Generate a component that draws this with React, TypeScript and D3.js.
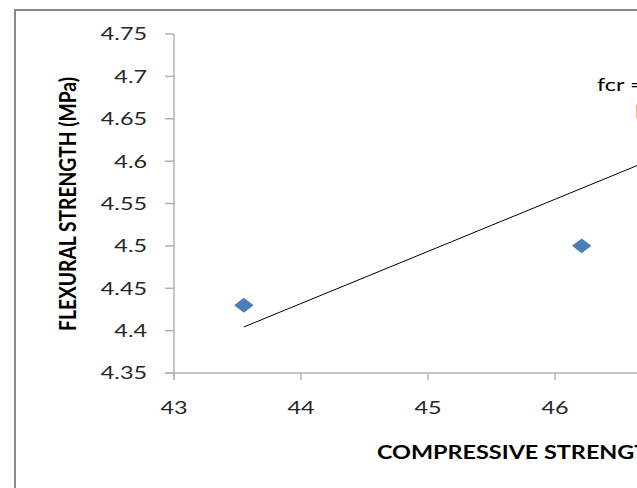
import React from "react";
import * as d3 from "d3";

// measured points (compressive MPa, flexural MPa)
const compressive = [43.55, 46.21];
const flexural = [4.43, 4.5];
// linear trendline fcr = a*fck + b
const trendSlope = 0.0615;
const trendIntercept = 1.726;
const trendRange = [43.55, 47.6];
const xTicks = [43, 44, 45, 46];
const yTicks = [4.35, 4.4, 4.45, 4.5, 4.55, 4.6, 4.65, 4.7, 4.75];

const W = 637;
const H = 488;
const STRETCH = 1.3; // the picture is stretched sideways
const FONT = "Lato, 'Open Sans', sans-serif";
const AXIS = "#b3b3b3";

const App = () => {
    const x = d3.scaleLinear().domain([43, 48]).range([174, 809]);
    const y = d3.scaleLinear().domain([4.35, 4.75]).range([373, 34]);

    const diamond = d3.symbol().type(d3.symbolSquare).size(112)();
    const trend = d3.line<number>()
        .x(d => x(d))
        .y(d => y(trendSlope * d + trendIntercept));

    return (
        <svg width={W} height={H} style={{ position: "absolute", left: 0, top: 0, background: "#fff" }}>
            {/* outer chart frame */}
            <rect x={15} y={10} width={1000} height={1000} fill="#fff" stroke="#8a8a8a" strokeWidth={2} />

            {/* axes */}
            <line x1={x(43)} x2={x(43)} y1={y(4.75)} y2={380} stroke={AXIS} strokeWidth={1.5} />
            <line x1={165} x2={W} y1={y(4.35)} y2={y(4.35)} stroke={AXIS} strokeWidth={1.5} />
            {yTicks.map(t => (
                <g key={"y" + t}>
                    <line x1={165} x2={x(43)} y1={y(t)} y2={y(t)} stroke={AXIS} strokeWidth={1.5} />
                    <g transform={`translate(147,${y(t)}) scale(${STRETCH},1)`}>
                        <text textAnchor="end" dy="0.36em" fontFamily={FONT} fontSize={18} fill="#262626">
                            {String(t)}
                        </text>
                    </g>
                </g>
            ))}
            {xTicks.map(t => (
                <g key={"x" + t}>
                    <line x1={x(t)} x2={x(t)} y1={y(4.35)} y2={380} stroke={AXIS} strokeWidth={1.5} />
                    <g transform={`translate(${x(t)},408) scale(${STRETCH},1)`}>
                        <text textAnchor="middle" dy="0.36em" fontFamily={FONT} fontSize={18} fill="#262626">
                            {String(t)}
                        </text>
                    </g>
                </g>
            ))}

            {/* trendline */}
            <path d={trend(trendRange) || ""} fill="none" stroke="#000" strokeWidth={1} />

            {/* points */}
            {compressive.map((c, i) => (
                <path key={"p" + i} d={diamond || ""} fill="#4a7ebb"
                    transform={`translate(${x(c)},${y(flexural[i])}) scale(${STRETCH},1) rotate(45)`} />
            ))}

            {/* trendline equation (runs off the right edge, as in the source) */}
            <g transform={`translate(597,91) scale(${STRETCH},1)`}>
                <text fontFamily={FONT} fontSize={18} fill="#000">fcr =</text>
            </g>
            <g transform={`translate(635,118) scale(${STRETCH},1)`}>
                <text fontFamily={FONT} fontSize={18} fill="#333">l</text>
            </g>

            {/* axis titles */}
            <g transform={`translate(377,459) scale(${STRETCH},1)`}>
                <text fontFamily={FONT} fontSize={18} fontWeight="bold" fill="#000">COMPRESSIVE STRENGT</text>
            </g>
            <g transform={`translate(76,204) scale(${STRETCH},1) rotate(-90)`}>
                <text textAnchor="middle" fontFamily={FONT} fontSize={18} fontWeight="bold" fill="#000"
                    textLength={254} lengthAdjust="spacingAndGlyphs">
                    FLEXURAL STRENGTH (MPa)
                </text>
            </g>
        </svg>
    );
};

export default App;
